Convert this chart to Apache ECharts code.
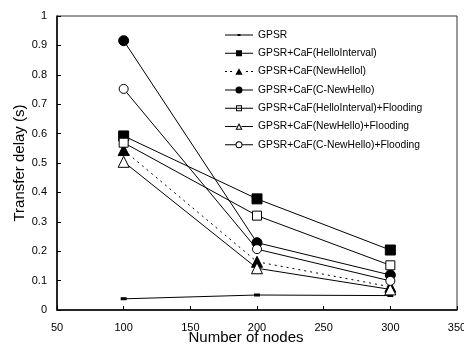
<!DOCTYPE html>
<html>
<head>
<meta charset="utf-8">
<script src="https://cdn.jsdelivr.net/npm/echarts@6/dist/echarts.min.js"></script>
<style>
  html, body { margin: 0; padding: 0; background: #fff; }
  #chart { width: 464px; height: 344px; }
</style>
</head>
<body>
<div id="chart"></div>
<script>
// node counts on the x axis
const nodes = [100, 200, 300];

const seriesNames = [
  "GPSR",
  "GPSR+CaF(HelloInterval)",
  "GPSR+CaF(NewHellol)",
  "GPSR+CaF(C-NewHello)",
  "GPSR+CaF(HelloInterval)+Flooding",
  "GPSR+CaF(NewHello)+Flooding",
  "GPSR+CaF(C-NewHello)+Flooding"
];

// transfer delay in seconds, one array per series
const gpsr = [0.038, 0.051, 0.049];
const helloInterval = [0.592, 0.378, 0.204];
const newHello = [0.544, 0.164, 0.079];
const cNewHello = [0.916, 0.229, 0.119];
const helloIntervalFlood = [0.569, 0.321, 0.152];
const newHelloFlood = [0.504, 0.142, 0.070];
const cNewHelloFlood = [0.752, 0.207, 0.099];

const chart = echarts.init(document.getElementById("chart"));

function mkSeries(name, values, symbol, filled, size, lineType) {
  return {
    name: name,
    type: "line",
    data: nodes.map((n, i) => [n, values[i]]),
    symbol: symbol,
    symbolSize: size,
    showAllSymbol: true,
    lineStyle: { color: "#000", width: 1, type: lineType || "solid" },
    itemStyle: {
      color: filled ? "#000" : "#fff",
      borderColor: "#000",
      borderWidth: 1
    },
    emphasis: { disabled: true },
    animation: false
  };
}

// legend icons drawn as small paths in a 28x8 box (line + small marker)
const seg = (a, b) => `M${a},3.5 H${b} V4.5 H${a} Z `;
const anchors = "M14,0 L14.01,0 M14,8 L14.01,8 ";
const sqOuter = "M11,1 H17 V7 H11 Z ";
const sqInner = "M12,2 V6 H16 V2 Z ";
const circOuter = "M10.5,4 A3.5,3.5 0 1,1 17.5,4 A3.5,3.5 0 1,1 10.5,4 Z ";
const circInner = "M11.5,4 A2.5,2.5 0 1,0 16.5,4 A2.5,2.5 0 1,0 11.5,4 Z ";
const triOuter = "M14,0.6 L17.6,7.2 L10.4,7.2 Z ";
const triInner = "M14,2.7 L12.1,6.3 L15.9,6.3 Z ";
const legendIcons = [
  anchors + seg(0, 28) + "M12.5,3 H15.5 V5 H12.5 Z",
  anchors + seg(0, 28) + sqOuter,
  anchors + seg(0, 2) + seg(5, 7) + triOuter + seg(21, 23) + seg(26, 28),
  anchors + seg(0, 28) + circOuter,
  anchors + seg(0, 28) + sqOuter + sqInner,
  anchors + seg(0, 11.5) + seg(16.5, 28) + triOuter + triInner,
  anchors + seg(0, 10.5) + seg(17.5, 28) + circOuter + circInner
];

const font = "Liberation Sans";

chart.setOption({
  backgroundColor: "#fff",
  animation: false,
  textStyle: { fontFamily: font },
  grid: {
    left: 57, right: 7, top: 16, bottom: 34,
    outerBoundsMode: "none",
    containLabel: false,
    show: true, borderColor: "#333", borderWidth: 1, backgroundColor: "transparent"
  },
  legend: {
    orient: "vertical",
    left: 220,
    top: 25,
    itemWidth: 28,
    itemHeight: 8,
    itemGap: 8.3,
    textStyle: { fontFamily: font, fontSize: 10.3, color: "#000" },
    data: seriesNames.map((n, i) => ({
      name: n,
      icon: "path://" + legendIcons[i],
      itemStyle: { color: "#000", borderWidth: 0 }
    }))
  },
  xAxis: {
    type: "value",
    min: 50, max: 350, interval: 50,
    name: "Number of nodes",
    nameLocation: "middle",
    nameGap: 20,
    nameMoveOverlap: false,
    nameTextStyle: { fontFamily: font, fontSize: 15, color: "#000", padding: [0, 22, 0, 0] },
    axisLine: { lineStyle: { color: "#000", width: 1.5 } },
    axisTick: { inside: true, length: 4, lineStyle: { color: "#000" } },
    axisLabel: { color: "#000", fontSize: 11, margin: 12 },
    splitLine: { show: false }
  },
  yAxis: {
    type: "value",
    min: 0, max: 1, interval: 0.1,
    name: "Transfer delay (s)",
    nameLocation: "middle",
    nameGap: 30,
    nameMoveOverlap: false,
    nameTextStyle: { fontFamily: font, fontSize: 15, color: "#000" },
    axisLine: { show: true, lineStyle: { color: "#000", width: 1.5 } },
    axisTick: { show: true, inside: true, length: 4, lineStyle: { color: "#000" } },
    axisLabel: { color: "#000", fontSize: 11, margin: 10 },
    splitLine: { show: false }
  },
  series: [
    mkSeries(seriesNames[0], gpsr, "rect", true, [4, 2]),
    mkSeries(seriesNames[1], helloInterval, "rect", true, 10),
    mkSeries(seriesNames[2], newHello, "triangle", true, 11, [2, 4]),
    mkSeries(seriesNames[3], cNewHello, "circle", true, 10),
    mkSeries(seriesNames[4], helloIntervalFlood, "rect", false, 9),
    mkSeries(seriesNames[5], newHelloFlood, "triangle", false, 11),
    mkSeries(seriesNames[6], cNewHelloFlood, "circle", false, 9)
  ]
});
</script>
</body>
</html>
